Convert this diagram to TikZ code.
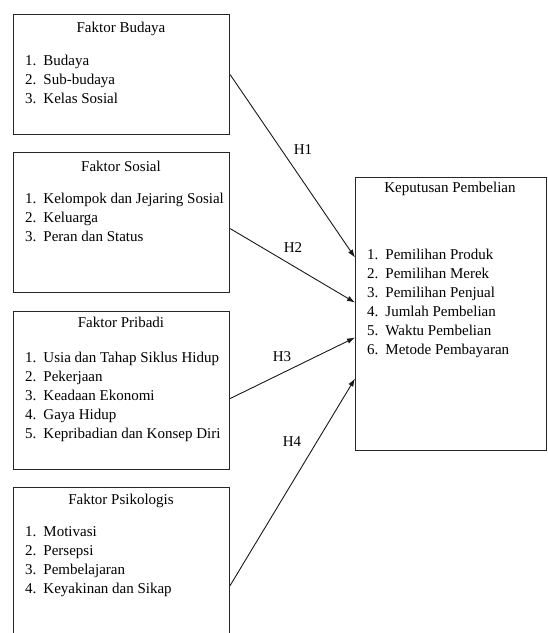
\documentclass[tikz,border=0pt]{standalone}
\usepackage{fontspec}
\setmainfont{Liberation Serif}
\usetikzlibrary{positioning,arrows.meta}
\newcommand{\butir}[1]{\begin{tabular}[t]{@{}l@{\hspace{7pt}}l@{}}#1\end{tabular}}

\begin{document}
\begin{tikzpicture}[x=1pt,y=-1pt,
	kotak/.style={draw=black!85,line width=1.1pt,rectangle,anchor=north west,inner sep=0pt},
	judul/.style={anchor=base,inner sep=0pt,font=\fontsize{15}{19}\selectfont},
	daftar/.style={anchor=base west,inner sep=0pt,font=\fontsize{15}{19}\selectfont},
	hipo/.style={inner sep=0pt,font=\fontsize{15}{19}\selectfont},
	panah/.style={-{Latex[length=8pt,width=5.5pt]},line width=0.9pt,black!90}]
	\useasboundingbox (0,0) rectangle (548,633);
	\clip (0,0) rectangle (548,633);
%
	\node[kotak,minimum width=216pt,minimum height=120pt] (budaya) at (13,14) {};
		\node[judul] (jbudaya) at (121,32) {Faktor Budaya};
		\node[daftar] (ibudaya) at (25,65) {\butir{1.&Budaya\\2.&Sub-budaya\\3.&Kelas Sosial}};
	\node[kotak,minimum width=216pt,minimum height=140pt] (sosial) at (13,152) {};
		\node[judul] (jsosial) at (121,171) {Faktor Sosial};
		\node[daftar] (isosial) at (25,203) {\butir{1.&Kelompok dan Jejaring Sosial\\2.&Keluarga\\3.&Peran dan Status}};
	\node[kotak,minimum width=216pt,minimum height=158pt] (pribadi) at (13,311) {};
		\node[judul] (jpribadi) at (121,327) {Faktor Pribadi};
		\node[daftar] (ipribadi) at (25,362) {\butir{1.&Usia dan Tahap Siklus Hidup\\2.&Pekerjaan\\3.&Keadaan Ekonomi\\4.&Gaya Hidup\\5.&Kepribadian dan Konsep Diri}};
	\node[kotak,minimum width=216pt,minimum height=196pt] (psikologis) at (13,487) {};
		\node[judul] (jpsikologis) at (121,504) {Faktor Psikologis};
		\node[daftar] (ipsikologis) at (25,536) {\butir{1.&Motivasi\\2.&Persepsi\\3.&Pembelajaran\\4.&Keyakinan dan Sikap}};
%
	\node[kotak,minimum width=191pt,minimum height=273pt] (keputusan) at (355,177) {};
		\node[judul] (jkeputusan) at (450,192) {Keputusan Pembelian};
		\node[daftar] (ikeputusan) at (367,259) {\butir{1.&Pemilihan Produk\\2.&Pemilihan Merek\\3.&Pemilihan Penjual\\4.&Jumlah Pembelian\\5.&Waktu Pembelian\\6.&Metode Pembayaran}};
%
	\draw[panah] (budaya.east) -- ([yshift=56.5pt]keputusan.west);
		\node[hipo] (h1) at (303,150) {H1};
	\draw[panah] ([yshift=-6pt]sosial.east) -- ([yshift=11.5pt]keputusan.west);
		\node[hipo] (h2) at (293,248) {H2};
	\draw[panah] ([yshift=-8pt]pribadi.east) -- ([yshift=-23.5pt]keputusan.west);
		\node[hipo] (h3) at (282,357) {H3};
	\draw[panah] (psikologis.east) -- ([yshift=-64.5pt]keputusan.west);
		\node[hipo] (h4) at (292,442) {H4};
\end{tikzpicture}
\end{document}
